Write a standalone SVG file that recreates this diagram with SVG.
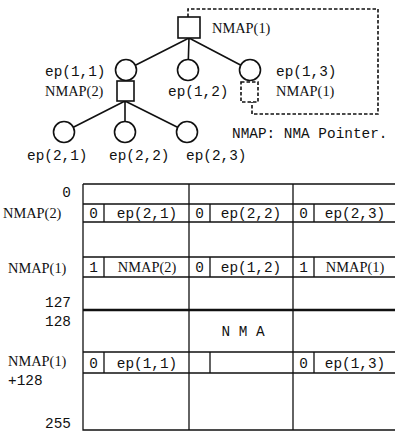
<svg xmlns="http://www.w3.org/2000/svg" width="395" height="432" viewBox="0 0 395 432">
  <style>
    .bg { fill: #ffffff; }
    .ln { stroke: #111; stroke-width: 1.6; fill: none; }
    .nd { stroke: #111; stroke-width: 1.6; fill: #ffffff; }
    .dash { stroke: #111; stroke-width: 1.6; fill: none; stroke-dasharray: 3.5 2; }
    .grid { stroke: #111; stroke-width: 1.3; fill: none; }
    .thick { stroke: #111; stroke-width: 2.6; fill: none; }
    .m { font-family: "Liberation Mono", "DejaVu Sans Mono", monospace; font-size: 14.4px; fill: #111; }
    .s { font-family: "Liberation Serif", "DejaVu Serif", serif; font-size: 14.4px; fill: #111; }
    .c { text-anchor: middle; }
    .r { text-anchor: end; }
  </style>
  <rect class="bg" x="0" y="0" width="395" height="432"/>

  <!-- tree edges and the dashed NMA pointer loop -->
  <g id="connectors">
    <path class="ln" d="M189,38 L126,70 M189,38 L188,70 M189,38 L250,70"/>
    <path class="ln" d="M125,101 L64,132 M125,101 L125,132 M125,101 L187,132"/>
    <path class="dash" d="M188,17 V9 H378 V114 H252 V102"/>
  </g>

  <g id="root">
    <rect class="nd" x="178" y="17" width="22" height="21"/>
    <text class="s" x="212" y="33">NMAP(1)</text>
  </g>

  <g id="ep11">
    <circle class="nd" cx="126" cy="70" r="10.5"/>
    <text class="m" x="45" y="76">ep(1,1)</text>
  </g>
  <g id="nmap2">
    <rect class="nd" x="117" y="81" width="17" height="20"/>
    <text class="s" x="45" y="96">NMAP(2)</text>
  </g>
  <g id="ep12">
    <circle class="nd" cx="188" cy="70" r="10.5"/>
    <text class="m" x="168" y="96">ep(1,2)</text>
  </g>
  <g id="ep13">
    <circle class="nd" cx="250" cy="70" r="10.5"/>
    <text class="m" x="276" y="76">ep(1,3)</text>
  </g>
  <g id="nmap1-ref">
    <rect class="dash" x="241" y="82" width="17" height="20"/>
    <text class="s" x="276" y="96">NMAP(1)</text>
  </g>

  <g id="ep21">
    <circle class="nd" cx="64" cy="132" r="10.5"/>
    <text class="m" x="27" y="160">ep(2,1)</text>
  </g>
  <g id="ep22">
    <circle class="nd" cx="125" cy="132" r="10.5"/>
    <text class="m" x="109" y="160">ep(2,2)</text>
  </g>
  <g id="ep23">
    <circle class="nd" cx="187" cy="132" r="10.5"/>
    <text class="m" x="186" y="160">ep(2,3)</text>
  </g>

  <g id="legend">
    <text class="m" x="232" y="138">NMAP: NMA Pointer.</text>
  </g>

  <!-- NMA memory table -->
  <g id="nma-table">
    <path class="grid" d="M83,184 H395 M83,184 V430 H395 M189,184 V430 M293,184 V430"/>
    <path class="grid" d="M83,204 H395 M83,222 H395 M83,257 H395 M83,277 H395 M83,352 H395 M83,373 H395"/>
    <path class="grid" d="M104,204 V222 M210,204 V222 M314,204 V222 M104,257 V277 M210,257 V277 M314,257 V277 M104,352 V373 M210,352 V373 M314,352 V373"/>
    <path class="thick" d="M83,310 H395"/>

    <text class="m r" x="71" y="197">0</text>
    <text class="s" x="3" y="218">NMAP(2)</text>
    <text class="s" x="8" y="273">NMAP(1)</text>
    <text class="m r" x="71" y="307">127</text>
    <text class="m r" x="71" y="326">128</text>
    <text class="s" x="8" y="366">NMAP(1)</text>
    <text class="m" x="8" y="385">+128</text>
    <text class="m r" x="71" y="428">255</text>

    <text class="m c" x="93.5" y="218">0</text>
    <text class="m c" x="147" y="218">ep(2,1)</text>
    <text class="m c" x="199.5" y="218">0</text>
    <text class="m c" x="251" y="218">ep(2,2)</text>
    <text class="m c" x="303.5" y="218">0</text>
    <text class="m c" x="355" y="218">ep(2,3)</text>

    <text class="m c" x="93.5" y="272">1</text>
    <text class="s c" x="147" y="272">NMAP(2)</text>
    <text class="m c" x="199.5" y="272">0</text>
    <text class="m c" x="251" y="272">ep(1,2)</text>
    <text class="m c" x="303.5" y="272">1</text>
    <text class="s c" x="355" y="272">NMAP(1)</text>

    <text class="m c" x="243" y="336">N M A</text>

    <text class="m c" x="93.5" y="368">0</text>
    <text class="m c" x="147" y="368">ep(1,1)</text>
    <text class="m c" x="303.5" y="368">0</text>
    <text class="m c" x="355" y="368">ep(1,3)</text>
  </g>
</svg>
